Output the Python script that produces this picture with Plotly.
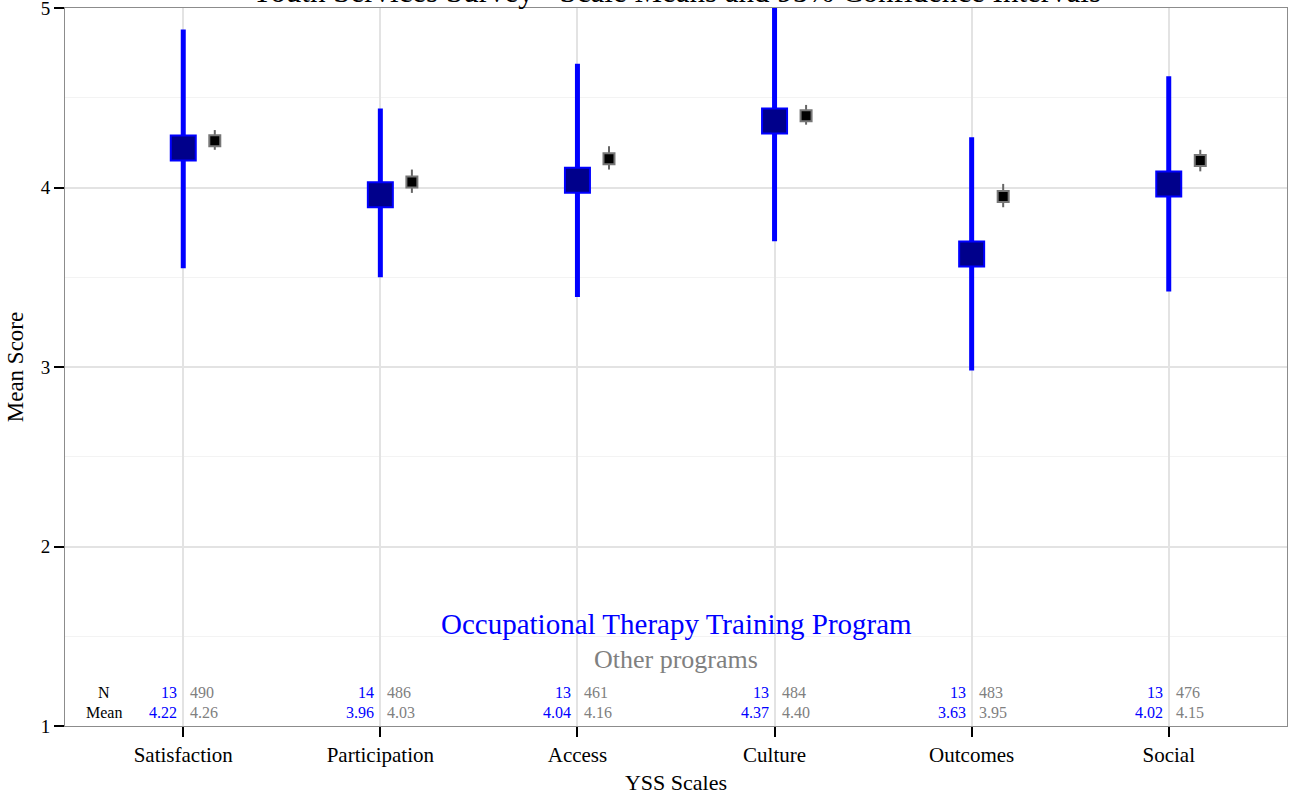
import plotly.graph_objects as go

categories = ["Satisfaction", "Participation", "Access", "Culture", "Outcomes", "Social"]
ot_mean = [4.22, 3.96, 4.04, 4.37, 3.63, 4.02]
ot_lo = [3.55, 3.50, 3.39, 3.70, 2.98, 3.42]
ot_hi = [4.88, 4.44, 4.69, 5.05, 4.28, 4.62]
ot_n = [13, 14, 13, 13, 13, 13]
oth_mean = [4.26, 4.03, 4.16, 4.40, 3.95, 4.15]
oth_lo = [4.21, 3.97, 4.10, 4.35, 3.89, 4.09]
oth_hi = [4.32, 4.10, 4.23, 4.46, 4.02, 4.21]
oth_n = [490, 486, 461, 484, 483, 476]

FONT = "Liberation Serif"
OFF = 0.16
xs = list(range(1, len(categories) + 1))

def seg(xv, lo, hi):
    X, Y = [], []
    for x, a, b in zip(xv, lo, hi):
        X += [x, x, None]
        Y += [a, b, None]
    return X, Y

fig = go.Figure()
X, Y = seg(xs, ot_lo, ot_hi)
fig.add_trace(go.Scatter(x=X, y=Y, mode="lines", line=dict(color="#0000ff", width=5), hoverinfo="skip"))
fig.add_trace(go.Scatter(x=xs, y=ot_mean, mode="markers",
                         marker=dict(symbol="square", size=25, color="#00008b", line=dict(color="#0000ff", width=2))))
xo = [x + OFF for x in xs]
X, Y = seg(xo, oth_lo, oth_hi)
fig.add_trace(go.Scatter(x=X, y=Y, mode="lines", line=dict(color="#666666", width=2), hoverinfo="skip"))
fig.add_trace(go.Scatter(x=xo, y=oth_mean, mode="markers",
                         marker=dict(symbol="square", size=11, color="#000000", line=dict(color="#777777", width=2))))

ann = []
ann.append(dict(x=0.5, y=1, xref="paper", yref="paper", yanchor="bottom", yshift=-3, showarrow=False,
                text="Youth Services Survey - Scale Means and 95% Confidence Intervals",
                font=dict(family=FONT, size=31, color="#000000")))
ann.append(dict(x=3.5, y=1.568, showarrow=False, text="Occupational Therapy Training Program",
                font=dict(family=FONT, size=29, color="#0000ff")))
ann.append(dict(x=3.5, y=1.368, showarrow=False, text="Other programs",
                font=dict(family=FONT, size=26, color="#808080")))
ann.append(dict(x=0.6, y=1.184, showarrow=False, text="N", font=dict(family=FONT, size=16, color="#000")))
ann.append(dict(x=0.6, y=1.078, showarrow=False, text="Mean", font=dict(family=FONT, size=16, color="#000")))
for x, n, m, n2, m2 in zip(xs, ot_n, ot_mean, oth_n, oth_mean):
    ann.append(dict(x=x, y=1.184, xanchor="right", xshift=-4, showarrow=False, text=str(n),
                    font=dict(family=FONT, size=16, color="#0000ff")))
    ann.append(dict(x=x, y=1.078, xanchor="right", xshift=-4, showarrow=False, text=f"{m:.2f}",
                    font=dict(family=FONT, size=16, color="#0000ff")))
    ann.append(dict(x=x, y=1.184, xanchor="left", xshift=5, showarrow=False, text=str(n2),
                    font=dict(family=FONT, size=16, color="#808080")))
    ann.append(dict(x=x, y=1.078, xanchor="left", xshift=5, showarrow=False, text=f"{m2:.2f}",
                    font=dict(family=FONT, size=16, color="#808080")))

fig.update_layout(
    width=1291, height=802,
    margin=dict(l=65, r=4, t=8, b=76, autoexpand=False),
    paper_bgcolor="white", plot_bgcolor="white",
    showlegend=False,
    font=dict(family=FONT, size=20, color="#000"),
    annotations=ann,
    xaxis=dict(range=[0.4, 6.6], tickvals=xs, ticktext=categories, showgrid=True, gridcolor="#e3e3e3",
               gridwidth=1.5, zeroline=False, showline=True, mirror=True, linecolor="#8c8c8c",
               ticks="outside", ticklen=10, tickcolor="#000", tickwidth=1.5, automargin=False,
               title=dict(text="YSS Scales", font=dict(size=22), standoff=8),
               tickfont=dict(size=21)),
    yaxis=dict(range=[1, 5], tickvals=[1, 2, 3, 4, 5], showgrid=True, gridcolor="#e3e3e3", gridwidth=1.5,
               minor=dict(tickvals=[1.5, 2.5, 3.5, 4.5], showgrid=True, gridcolor="#f3f3f3", gridwidth=1),
               zeroline=False, showline=True, mirror=True, linecolor="#8c8c8c",
               ticks="outside", ticklen=10, tickcolor="#000", tickwidth=1.5, automargin=False,
               ticklabeloverflow="allow",
               title=dict(text="Mean Score", font=dict(size=23), standoff=10),
               tickfont=dict(size=19)),
)
fig.write_html("out.html", config={"displayModeBar": False},
               post_script="document.body.style.margin='0';")
